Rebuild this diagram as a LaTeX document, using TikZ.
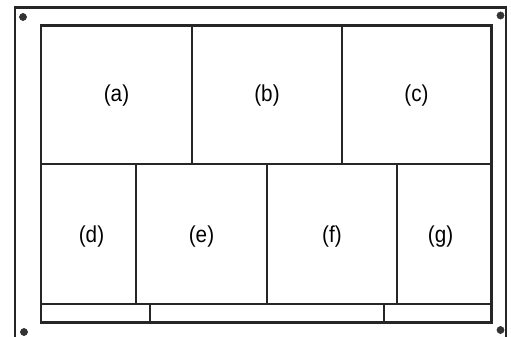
\documentclass[tikz,border=0pt]{standalone}
\usepackage{fontspec}
\setmainfont{Liberation Sans}
\begin{document}
\begin{tikzpicture}[x=1pt,y=-1pt,
  frame/.style={draw=black!85,line width=2.4pt},
  divider/.style={draw=black!85,line width=2pt},
  lbl/.style={font=\fontsize{23}{23}\selectfont,xscale=0.9,inner sep=0pt},
  hole/.style={fill=black!80,draw=black!80,line width=0.5pt}]
\useasboundingbox (0,0) rectangle (511,337);
% outer frame (bottom runs off the page)
\draw[frame] (15,345) -- (15,7.5) -- (506,7.5) -- (506,345);
% inner frame
\draw[frame] (41,25.5) rectangle (491.5,322.5);
% row split and strip
\draw[divider] (41,164) -- (491.5,164);
\draw[divider] (41,304) -- (491.5,304);
% top row dividers
\draw[divider] (192,25.5) -- (192,164);
\draw[divider] (342,25.5) -- (342,164);
% middle row dividers
\draw[divider] (136,164) -- (136,304);
\draw[divider] (267,164) -- (267,304);
\draw[divider] (397,164) -- (397,304);
% strip dividers
\draw[divider] (150,304) -- (150,322.5);
\draw[divider] (384,304) -- (384,322.5);
% holes
\fill[hole] (23,17) circle (3.6);
\fill[hole] (500.5,15.5) circle (3.6);
\fill[hole] (24,332) circle (3.6);
\fill[hole] (500.5,330) circle (3.6);
% labels
\node[lbl] (a) at (116.5,96) {(a)};
\node[lbl] (b) at (267,96) {(b)};
\node[lbl] (c) at (416.5,96) {(c)};
\node[lbl] (d) at (91.5,237) {(d)};
\node[lbl] (e) at (201.5,237) {(e)};
\node[lbl] (f) at (332,237) {(f)};
\node[lbl] (g) at (440.5,237) {(g)};
\end{tikzpicture}
\end{document}
